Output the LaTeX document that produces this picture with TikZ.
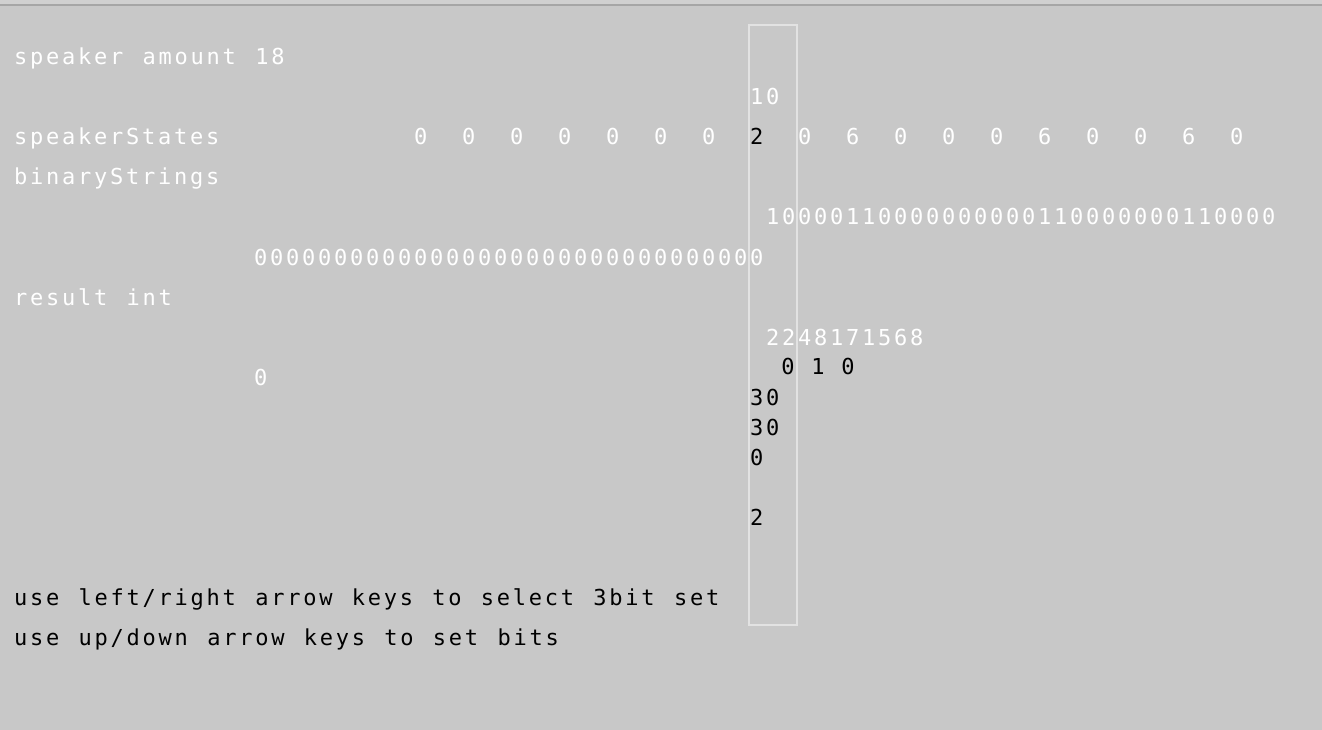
\documentclass[tikz,border=0pt]{standalone}
\usepackage{fontspec}
\newfontfamily\pixfont[LetterSpace=12.5,WordSpace={1.2085,0,0}]{DejaVu Sans Mono}
\usepackage{tikz}
\definecolor{panel}{HTML}{C8C8C8}
\definecolor{topstrip}{HTML}{D0D0D0}
\definecolor{topline}{HTML}{A6A6A6}
\definecolor{selline}{HTML}{E2E2E2}
\tikzset{every node/.append style={font=\pixfont\fontsize{22}{26}\selectfont,inner sep=0pt,anchor=base west}}
\tikzset{lite/.style={text=white},dark/.style={text=black}}
\tikzset{selbox/.style={draw=selline,line width=2pt}}

\begin{document}
\begin{tikzpicture}[x=1pt,y=-1pt]
  \fill[panel] (0,0) rectangle (1322,730);
  \fill[topstrip] (0,0) rectangle (1322,4);
  \fill[topline] (0,4) rectangle (1322,6);
  \useasboundingbox (0,0) rectangle (1322,730);

  \node[lite] (amount) at (14,65) {speaker amount 18};
  \node[lite] (sel) at (750,105) {10};
  \node[lite] (states) at (14,145) {speakerStates};
  \foreach \v [count=\i from 0] in {0,0,0,0,0,0,0,2,0,6,0,0,0,6,0,0,6,0}
  {
    \ifnum\i=7
      \node[dark] (st\i) at (750,145) {\v};
    \else
      \node[lite] (st\i) at ({414+48*\i},145) {\v};
    \fi
  }
  \node[lite] (binary) at (14,185) {binaryStrings};
  \node[lite] (bits) at (766,225) {10000110000000000110000000110000};
  \node[lite] (zeros) at (254,265) {00000000000000000000000000000000};
  \node[lite] (result) at (14,305) {result int};
  \node[lite] (resval) at (766,345) {2248171568};
  \node[lite] (reszero) at (254,385) {0};

  % selected 3bit set
  \foreach \b [count=\i from 0] in {0,1,0}
    \node[dark,anchor=base] (bit\i) at ({788+30*\i},374) {\b};
  \node[dark] (vala) at (750,405) {30};
  \node[dark] (valb) at (750,435) {30};
  \node[dark] (valc) at (750,465) {0};
  \node[dark] (vald) at (750,525) {2};

  \node[dark] (helpa) at (14,605) {use left/right arrow keys to select 3bit set};
  \node[dark] (helpb) at (14,645) {use up/down arrow keys to set bits};

  \draw[selbox] (749,25) rectangle (797,625);
\end{tikzpicture}
\end{document}
